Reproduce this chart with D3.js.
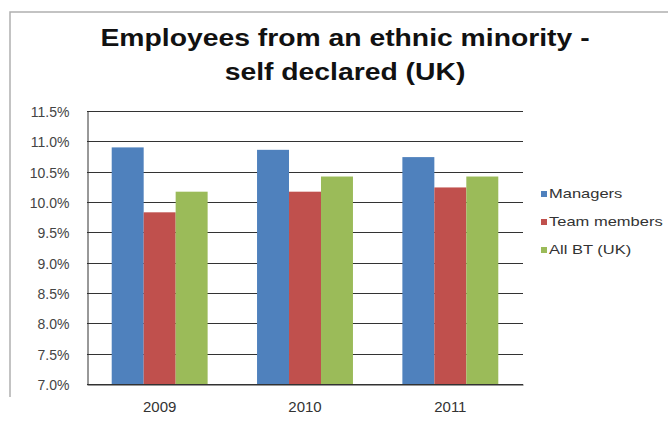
<!DOCTYPE html>
<html>
<head>
<meta charset="utf-8">
<script src="https://cdn.jsdelivr.net/npm/d3@7"></script>
<style>
  body { margin: 0; background: #fff; }
  text { font-family: "Liberation Sans", Arial, sans-serif; }
</style>
</head>
<body>
<svg id="chart" width="668" height="423"></svg>
<script>
var years = ['2009', '2010', '2011'];
var seriesNames = ['Managers', 'Team members', 'All BT (UK)'];
var managers = [10.9, 10.86, 10.74];
var teamMembers = [9.83, 10.17, 10.24];
var allBT = [10.17, 10.42, 10.42];
var yTicks = [7.0, 7.5, 8.0, 8.5, 9.0, 9.5, 10.0, 10.5, 11.0, 11.5];
var colors = ['#4f81bd', '#c0504d', '#9bbb59'];

var seriesValues = [managers, teamMembers, allBT];

var svg = d3.select('#chart');

var plot = {left: 87, top: 111, right: 523, bottom: 384};

// outer frame, only top and left edges are in view
svg.append('path')
   .attr('d', 'M10,397 V12 H668')
   .attr('fill', 'none')
   .attr('stroke', '#b0b0b0')
   .attr('stroke-width', 1.5);

// title (the original is stretched sideways a bit)
var title = svg.append('g')
               .attr('transform', 'translate(345,0) scale(1.18,1)');
title.append('text')
     .attr('x', 0).attr('y', 46)
     .attr('text-anchor', 'middle')
     .style('font-size', '24px').style('font-weight', 'bold')
     .attr('fill', '#111')
     .text('Employees from an ethnic minority -');
title.append('text')
     .attr('x', 0).attr('y', 80)
     .attr('text-anchor', 'middle')
     .style('font-size', '24px').style('font-weight', 'bold')
     .attr('fill', '#111')
     .text('self declared (UK)');

var y = d3.scaleLinear()
          .domain([7.0, 11.5])
          .range([plot.bottom, plot.top]);

var x0 = d3.scaleBand()
           .domain(years)
           .range([plot.left, plot.right])
           .paddingInner(0.34)
           .paddingOuter(0.17);

var x1 = d3.scaleBand()
           .domain(d3.range(seriesNames.length))
           .range([0, x0.bandwidth()]);

// gridlines
svg.append('g')
   .selectAll('line')
   .data(yTicks)
   .enter()
   .append('line')
   .attr('x1', plot.left)
   .attr('x2', plot.right)
   .attr('y1', function(d){ return Math.round(y(d)) + 0.5; })
   .attr('y2', function(d){ return Math.round(y(d)) + 0.5; })
   .attr('stroke', '#333')
   .attr('stroke-width', 1);

// bars
var rows = years.map(function(yr, i){
  return seriesValues.map(function(s, j){ return {year: yr, idx: j, value: s[i]}; });
});

svg.append('g')
   .selectAll('g')
   .data(rows)
   .enter()
   .append('g')
   .attr('transform', function(d, i){ return 'translate(' + x0(years[i]) + ',0)'; })
   .selectAll('rect')
   .data(function(d){ return d; })
   .enter()
   .append('rect')
   .attr('x', function(d){ return x1(d.idx); })
   .attr('width', x1.bandwidth())
   .attr('y', function(d){ return y(d.value); })
   .attr('height', function(d){ return y(7.0) - y(d.value); })
   .attr('fill', function(d){ return colors[d.idx]; });

// y axis
var yAxis = d3.axisLeft(y)
              .tickValues(yTicks)
              .tickSize(0)
              .tickPadding(18)
              .tickFormat(function(d){ return d.toFixed(1) + '%'; });

var ya = svg.append('g')
            .attr('transform', 'translate(' + (plot.left + 0.5) + ',0)')
            .call(yAxis);
ya.select('.domain').attr('stroke', '#333');
ya.selectAll('text')
  .style('font-size', '14px')
  .style('font-family', '"Liberation Sans", Arial, sans-serif')
  .attr('dy', '0.4em')
  .attr('fill', '#444');

// x axis
var xAxis = d3.axisBottom(x0).tickSize(0).tickPadding(17);
var xa = svg.append('g')
            .attr('transform', 'translate(0,' + (plot.bottom + 0.5) + ')')
            .call(xAxis);
xa.select('.domain').attr('stroke', '#333');
xa.selectAll('text')
  .style('font-size', '15px')
  .style('font-family', '"Liberation Sans", Arial, sans-serif')
  .attr('fill', '#333');

// legend
var legend = svg.append('g')
                .selectAll('g')
                .data(seriesNames)
                .enter()
                .append('g')
                .attr('transform', function(d, i){ return 'translate(541,' + (198 + i * 28) + ')'; });
legend.append('rect')
      .attr('y', -7)
      .attr('width', 6).attr('height', 6)
      .attr('fill', function(d, i){ return colors[i]; });
legend.append('text')
      .attr('transform', 'translate(8,0) scale(1.27,1)')
      .style('font-size', '13px')
      .attr('fill', '#333')
      .text(function(d){ return d; });
</script>
</body>
</html>
